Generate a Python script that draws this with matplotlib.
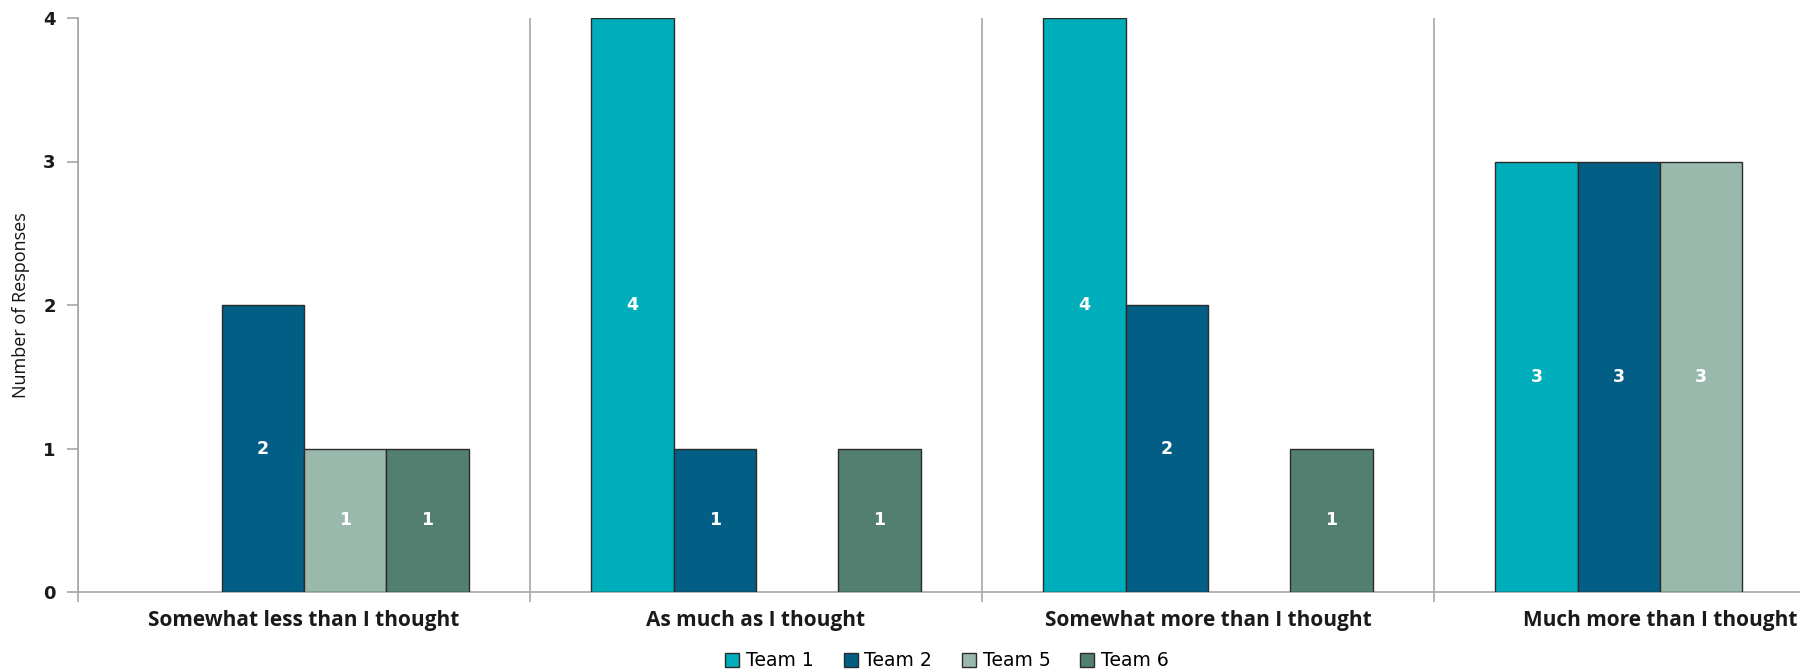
import matplotlib
matplotlib.use("Agg")
import matplotlib.pyplot as plt
from matplotlib.patches import Patch
import numpy as np

categories = [
    "Somewhat less than I thought",
    "As much as I thought",
    "Somewhat more than I thought",
    "Much more than I thought",
]
team_names = ["Team 1", "Team 2", "Team 5", "Team 6"]
team1 = [0, 4, 4, 3]
team2 = [2, 1, 2, 3]
team5 = [1, 0, 0, 3]
team6 = [1, 1, 1, 0]
team_colors = ["#00adba", "#025e84", "#9ab9ad", "#527f70"]
y_ticks = [0, 1, 2, 3, 4]

series = [team1, team2, team5, team6]

fig = plt.figure(figsize=(18, 6.72), dpi=100)
# axes runs slightly past the right edge of the canvas
ax = fig.add_axes([78 / 1800, 80 / 672, 1808 / 1800, 574 / 672])

bar_w = 0.182
x = np.arange(len(categories))
edge = "#2b2b2b"
for i, (vals, color) in enumerate(zip(series, team_colors)):
    offset = (i - 1.5) * bar_w
    vals = np.array(vals, dtype=float)
    keep = vals > 0
    bars = ax.bar(x[keep] + offset, vals[keep], width=bar_w, color=color,
                  edgecolor=edge, linewidth=1.0, zorder=3)
    for rect, v in zip(bars, vals[keep]):
        ax.text(rect.get_x() + rect.get_width() / 2, v / 2, f"{int(v)}",
                ha="center", va="center", color="white", fontsize=12.5,
                fontweight="bold", family="DejaVu Sans", zorder=4)

ax.set_xlim(-0.5, len(categories) - 0.5)
ax.set_ylim(0, 4)

# category boundaries as major ticks / gridlines, labels on minor ticks
ax.set_xticks(np.arange(-0.5, len(categories), 1.0))
ax.set_xticklabels([])
ax.set_xticks(x, minor=True)
ax.set_xticklabels(categories, minor=True, fontsize=15, fontweight="bold",
                   family="Open Sans", color="#1a1a1a")
ax.tick_params(axis="x", which="minor", length=0, pad=13)
ax.tick_params(axis="x", which="major", length=7, width=1.2, color="#a6a6a6",
               direction="out")
ax.xaxis.grid(True, which="major", color="#a6a6a6", linewidth=1.2, zorder=0)

ax.set_yticks(y_ticks)
ax.set_yticklabels([str(t) for t in y_ticks], fontsize=13, fontweight="bold",
                   family="DejaVu Sans", color="#1a1a1a")
ax.tick_params(axis="y", length=8, width=1.2, color="#a6a6a6", pad=8)

for side in ("top", "right"):
    ax.spines[side].set_visible(False)
for side in ("left", "bottom"):
    ax.spines[side].set_color("#a6a6a6")
    ax.spines[side].set_linewidth(1.2)

fig.text(21 / 1800, (672 - 305) / 672, "Number of Responses", rotation=90,
         ha="center", va="center", fontsize=13, fontweight="medium",
         family=["Open Sans", "DejaVu Sans"], color="#111111")

handles = [Patch(facecolor=c, edgecolor=edge, linewidth=1.0) for c in team_colors]
fig.legend(handles, team_names, loc="center", bbox_to_anchor=(947 / 1800, 11 / 672),
           ncol=4, frameon=False, handlelength=0.75, handleheight=0.75,
           handletextpad=0.35, columnspacing=1.6,
           prop={"family": "DejaVu Sans", "size": 13.5})

fig.savefig("out.png", dpi=100, facecolor="white")
